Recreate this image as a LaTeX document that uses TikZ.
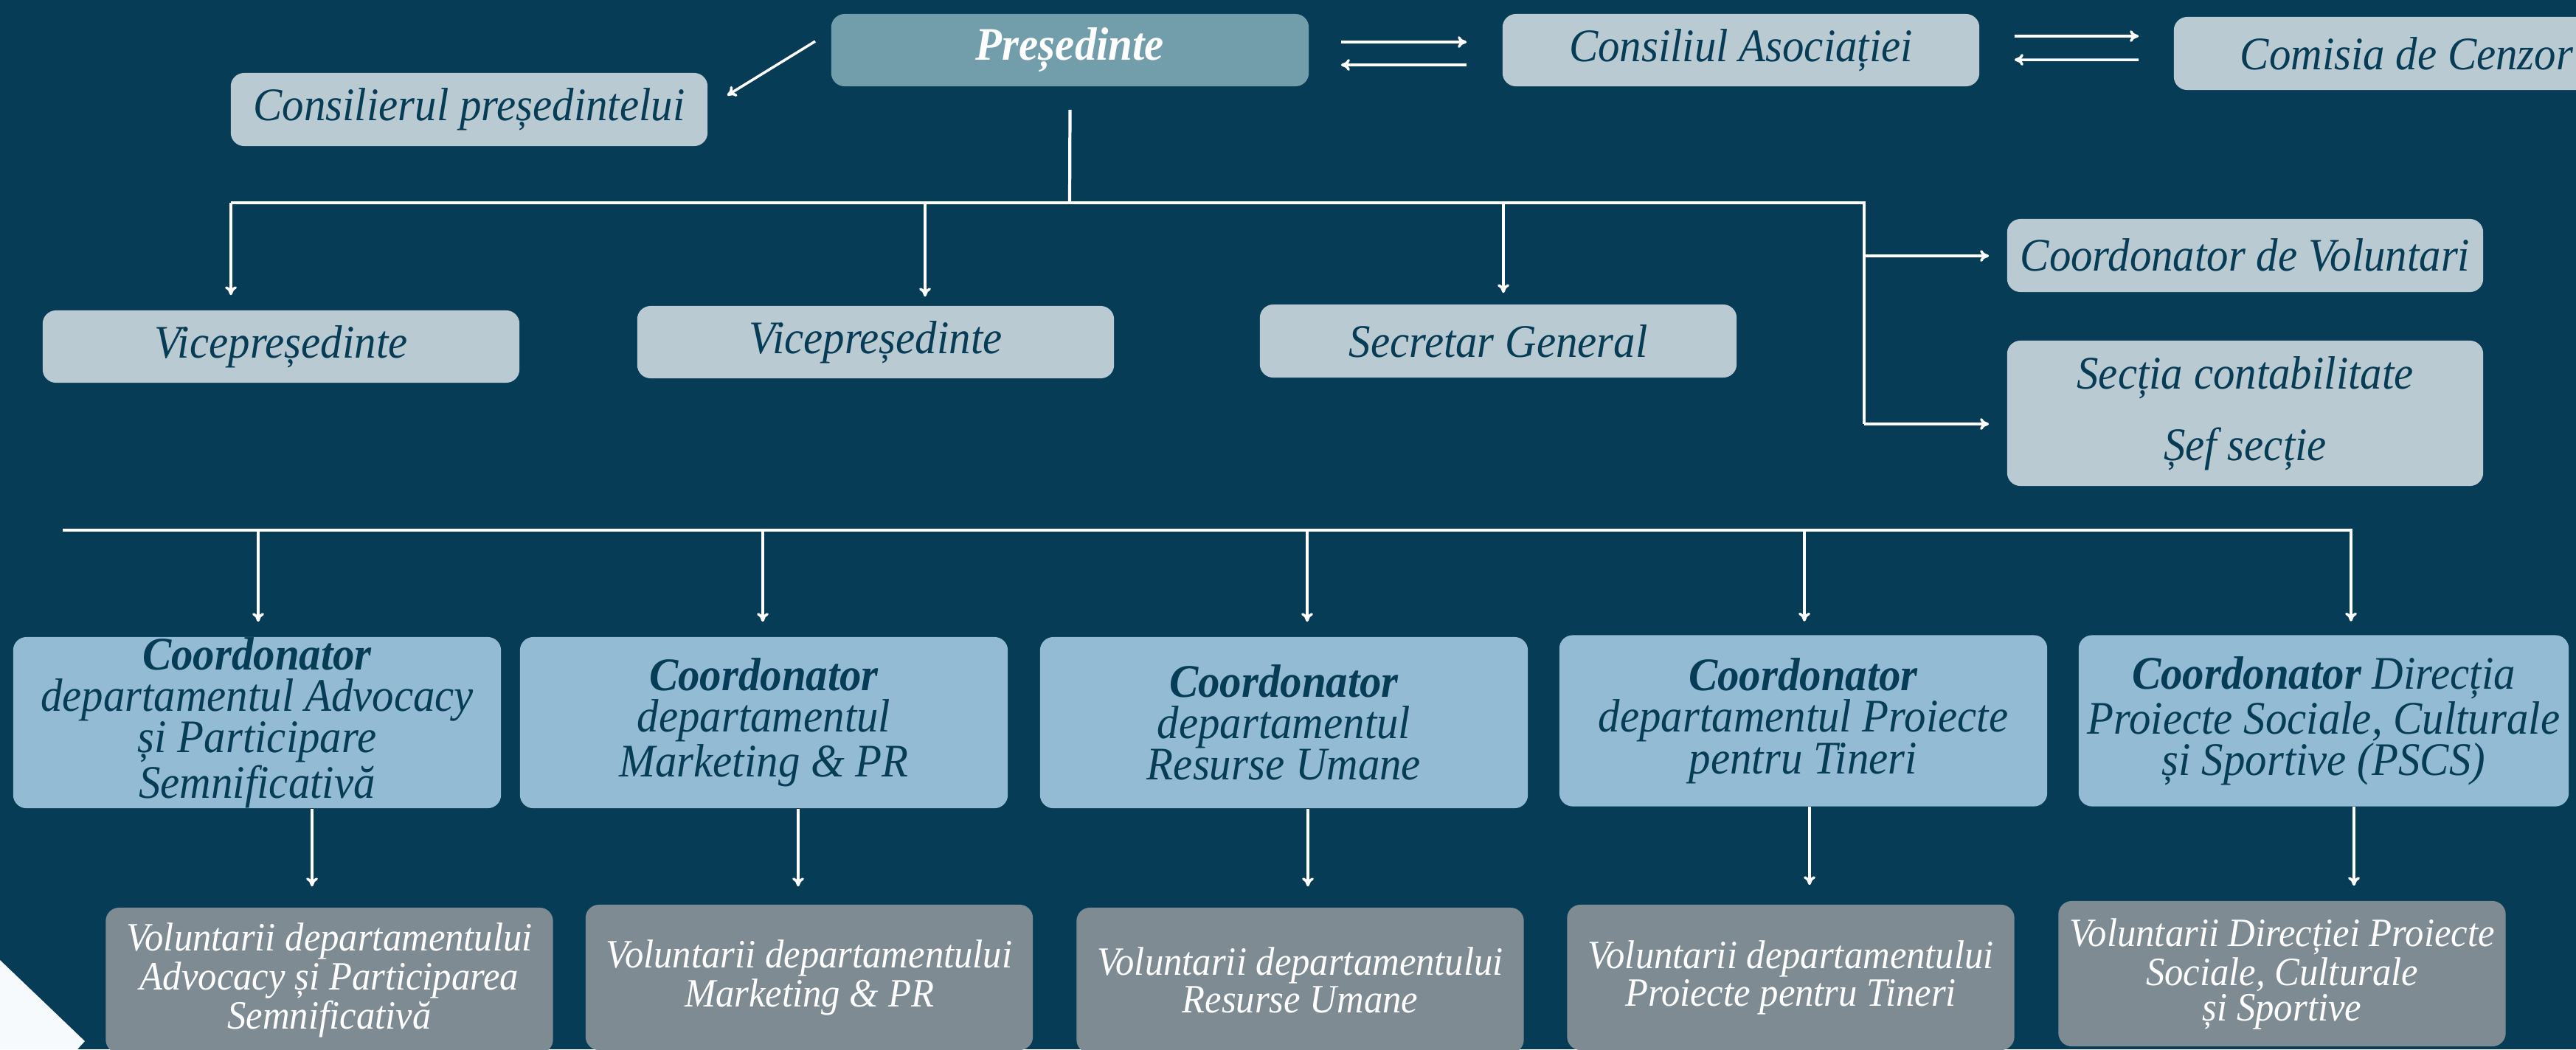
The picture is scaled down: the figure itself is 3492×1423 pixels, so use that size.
\documentclass[tikz,border=0pt]{standalone}
\usepackage{fontspec}
\setmainfont{Liberation Serif}[FakeStretch=0.93]
\usetikzlibrary{arrows.meta}

\definecolor{bgnavy}{HTML}{063C56}
\definecolor{presteal}{HTML}{729DAA}
\definecolor{boxgrey}{HTML}{BACAD2}
\definecolor{deptblue}{HTML}{93BBD3}
\definecolor{volgrey}{HTML}{7E8B92}
\definecolor{cornerwhite}{HTML}{F7FAFD}

\newcommand\boxfont{\fontsize{18}{16}\selectfont\itshape}
\newcommand\volfont{\fontsize{15.5}{12.5}\selectfont\itshape}

\begin{document}
\begin{tikzpicture}[x=0.01cm,y=-0.01cm,
    card/.style={rounded corners=0.18cm,inner sep=0pt,align=center,text=bgnavy,font=\boxfont},
    light/.style={card,fill=boxgrey},
    lead/.style={card,fill=presteal,text=white},
    dept/.style={card,fill=deptblue,minimum width=6.61cm,minimum height=2.32cm},
    vol/.style={card,fill=volgrey,text=white,font=\volfont,minimum width=6.06cm,minimum height=1.97cm},
    link/.style={draw=white,line width=1pt,-{Computer Modern Rightarrow[length=1.2mm,width=1.6mm]}},
    bar/.style={draw=white,line width=1.2pt}]
    % Page
    \useasboundingbox (0,0) rectangle (3492,1423);
    \fill[bgnavy] (0,0) rectangle (3492,1423);
    \clip (0,0) rectangle (3492,1423);
    \fill[cornerwhite] (0,1302) -- (115,1412) -- (105,1423) -- (0,1423) -- cycle;

    % Leadership
    \node (pres) at (1450.5,68) [lead,minimum width=6.47cm,minimum height=0.98cm] {\textbf{Președinte}};
    \node (cons) at (636,148.5) [light,minimum width=6.46cm,minimum height=0.99cm] {Consilierul președintelui};
    \node (consiliu) at (2360,68) [light,minimum width=6.46cm,minimum height=0.98cm] {Consiliul Asociației};
    \node (cenz) at (3273.5,72.5) [light,minimum width=6.53cm,minimum height=0.99cm]
        {\makebox[4.73cm][l]{Comisia de Cenzor}};

    % Second level
    \node (vp1) at (381,470) [light,minimum width=6.46cm,minimum height=0.98cm] {Vicepreședinte};
    \node (vp2) at (1187,464) [light,minimum width=6.46cm,minimum height=0.98cm] {Vicepreședinte};
    \node (sg) at (2031,462.5) [light,minimum width=6.46cm,minimum height=0.99cm] {Secretar General};
    \node (cv) at (3043.5,346.5) [light,minimum width=6.45cm,minimum height=0.99cm] {Coordonator de Voluntari};
    \node (sc) at (3043.5,560.5) [light,minimum width=6.45cm,minimum height=1.97cm] {Secția contabilitate\\[10pt] Șef secție};

    % Departments
    \node (d1) at (348.5,980) [dept] {\textbf{Coordonator}\\ departamentul Advocacy\\ și Participare\\ Semnificativă};
    \node (d2) at (1035.5,980) [dept] {\textbf{Coordonator}\\ departamentul\\ Marketing \& PR};
    \node (d3) at (1740.5,980) [dept] {\textbf{Coordonator}\\ departamentul\\ Resurse Umane};
    \node (d4) at (2444.5,977.5) [dept] {\textbf{Coordonator}\\ departamentul Proiecte\\ pentru Tineri};
    \node (d5) at (3150,977.5) [dept,minimum width=6.64cm] {\textbf{Coordonator} Direcția\\ Proiecte Sociale, Culturale\\ și Sportive (PSCS)};

    % Volunteers
    \node (v1) at (446.5,1329.5) [vol] {Voluntarii departamentului\\ Advocacy și Participarea\\ Semnificativă};
    \node (v2) at (1097,1325.5) [vol] {Voluntarii departamentului\\ Marketing \& PR};
    \node (v3) at (1762.5,1329.5) [vol] {Voluntarii departamentului\\ Resurse Umane};
    \node (v4) at (2427.5,1325.5) [vol] {Voluntarii departamentului\\ Proiecte pentru Tineri};
    \node (v5) at (3093.5,1320.5) [vol] {Voluntarii Direcției Proiecte\\ Sociale, Culturale\\ și Sportive};

    % President links
    \draw[link] ([xshift=-0.21cm,yshift=0.12cm]pres.west) -- ([xshift=0.26cm,yshift=-0.31cm]cons.north east);
    \draw[link] ([xshift=0.43cm,yshift=0.11cm]pres.east) -- ([xshift=-0.48cm,yshift=0.11cm]consiliu.west);
    \draw[link] ([xshift=-0.48cm,yshift=-0.20cm]consiliu.west) -- ([xshift=0.43cm,yshift=-0.20cm]pres.east);
    \draw[link] ([xshift=0.47cm,yshift=0.19cm]consiliu.east) -- ([xshift=-0.47cm,yshift=0.235cm]cenz.west);
    \draw[link] ([xshift=-0.47cm,yshift=-0.085cm]cenz.west) -- ([xshift=0.47cm,yshift=-0.13cm]consiliu.east);

    % Top bar
    \coordinate (hub) at (1450,275);
    \coordinate (barL) at (313,275);
    \coordinate (barR) at (2527,275);
    \draw[bar] ([yshift=-0.31cm]pres.south) -- (hub);
    \draw[bar] (barL) -- (barR) -- (2527,575);
    \draw[link,shorten >=0.2cm] (barL) -- (barL |- vp1.north);
    \draw[link,shorten >=0.12cm] (1254,275) -- (1254,0 |- vp2.north);
    \draw[link,shorten >=0.15cm] (2038,275) -- (2038,0 |- sg.north);
    \draw[link,shorten >=0.24cm] (2527,347) -- (2527,347 -| cv.west);
    \draw[link,shorten >=0.24cm] (2527,575) -- (2527,575 -| sc.west);

    % Department bar
    \coordinate (rowL) at (85,719);
    \coordinate (rowR) at (3187,719);
    \draw[link,shorten >=0.18cm] (rowL) -- (rowR) -- (rowR |- d5.north);
    \draw[link,shorten >=0.2cm] (350,719) -- (350,0 |- d1.north);
    \draw[link,shorten >=0.2cm] (1034,719) -- (1034,0 |- d2.north);
    \draw[link,shorten >=0.2cm] (1772,719) -- (1772,0 |- d3.north);
    \draw[link,shorten >=0.18cm] (2446,719) -- (2446,0 |- d4.north);

    % Volunteers links
    \draw[link,shorten >=0.28cm] (423,0 |- d1.south) -- (423,0 |- v1.north);
    \draw[link,shorten >=0.24cm] (1082,0 |- d2.south) -- (1082,0 |- v2.north);
    \draw[link,shorten >=0.28cm] (1773,0 |- d3.south) -- (1773,0 |- v3.north);
    \draw[link,shorten >=0.26cm] (2453,0 |- d4.south) -- (2453,0 |- v4.north);
    \draw[link,shorten >=0.2cm] (3191,0 |- d5.south) -- (3191,0 |- v5.north);
\end{tikzpicture}
\end{document}
